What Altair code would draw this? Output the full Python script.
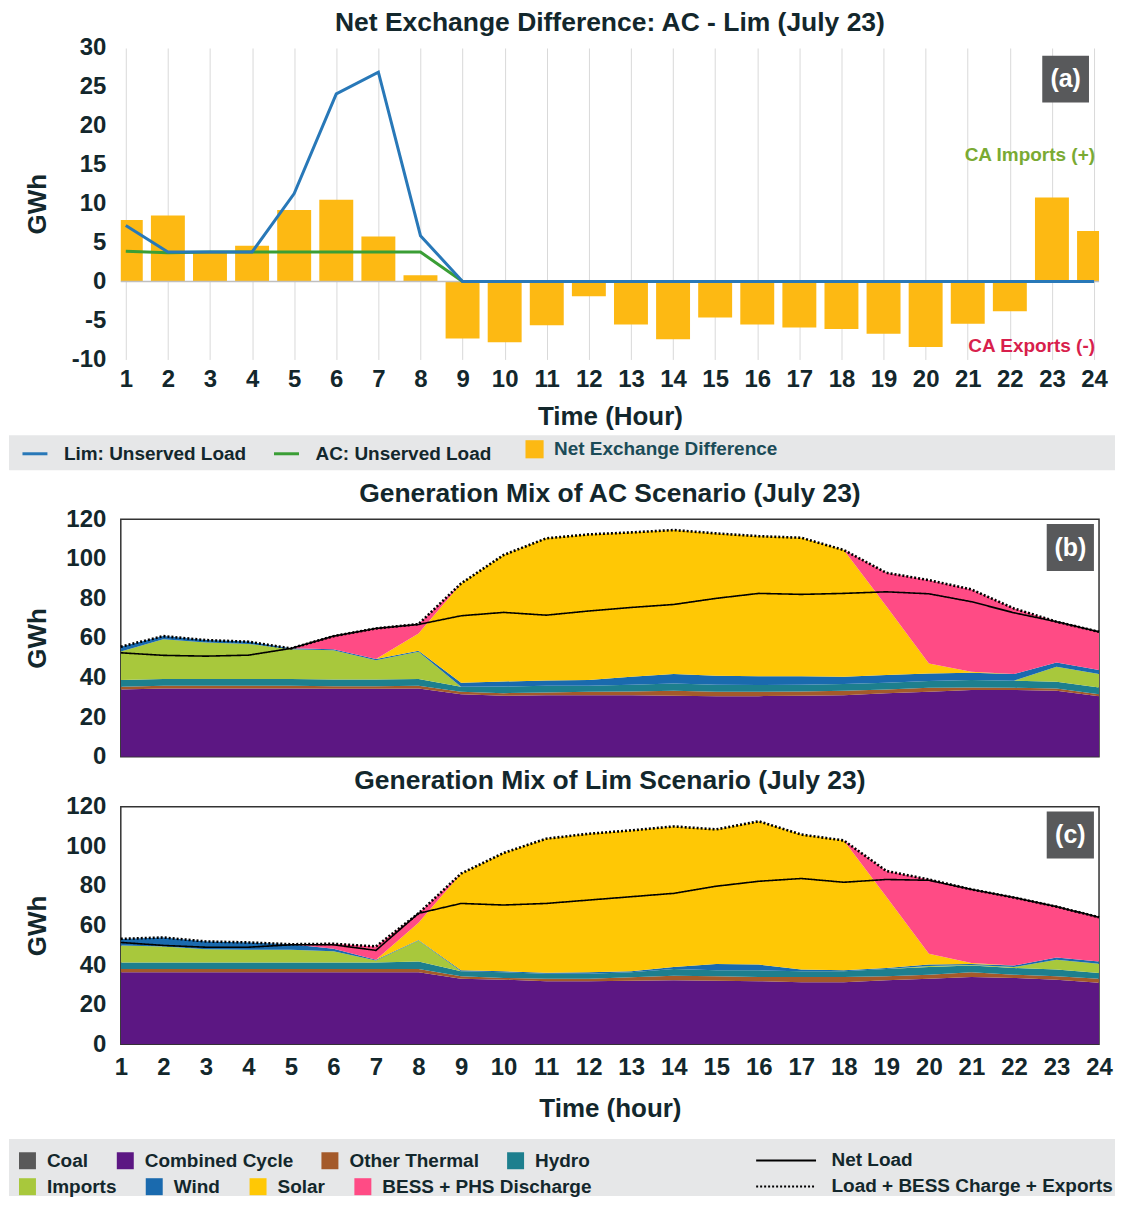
import altair as alt
import pandas as pd

hours = list(range(1, 25))

# ---------------- Panel (a) data ----------------
net_exchange = [7.9, 8.5, 3.7, 4.6, 9.2, 10.5, 5.8, 0.8, -7.3, -7.8, -5.6, -1.9,
                -5.5, -7.4, -4.6, -5.5, -5.9, -6.1, -6.7, -8.4, -5.4, -3.8, 10.8, 6.5]
lim_unserved = [7.2, 3.8, 3.8, 3.8, 11.3, 24.1, 26.9, 5.9] + [0.0] * 16
ac_unserved = [3.9, 3.7, 3.8, 3.8, 3.8, 3.8, 3.8, 3.8] + [0.0] * 16

# ---------------- Generation mix categories ----------------
sources = ["Coal", "Combined Cycle", "Other Thermal", "Hydro",
           "Imports", "Wind", "Solar", "BESS + PHS Discharge"]
source_colors = ["#595959", "#5C1783", "#A45A2A", "#1D7F8E",
                 "#A8C83C", "#1A6AAE", "#FFC805", "#FF4B85"]
line_types = ["Net Load", "Load + BESS Charge + Exports"]

# ---------------- Panel (b): AC scenario ----------------
ac_coal = [0.0] * 24
ac_cc = [34.0, 34.5, 34.5, 34.5, 34.5, 34.3, 34.3, 34.5, 31.5, 30.8, 31.1, 31.1,
         31.0, 30.8, 30.6, 30.6, 30.8, 31.1, 32.0, 32.8, 33.7, 33.7, 33.3, 30.6]
ac_other = [1.3, 1.3, 1.3, 1.3, 1.3, 1.3, 1.3, 1.3, 1.3, 1.3, 1.3, 1.7,
            2.0, 2.5, 2.2, 2.2, 2.2, 2.2, 2.0, 2.0, 1.3, 1.1, 1.2, 1.0]
ac_hydro = [3.4, 3.4, 3.4, 3.4, 3.4, 3.4, 3.4, 3.4, 2.6, 3.4, 3.4, 3.1,
            3.4, 3.7, 3.5, 3.4, 3.4, 3.4, 3.4, 3.4, 3.7, 3.6, 3.4, 3.4]
ac_imports = [14.4, 20.2, 18.5, 17.8, 15.1, 14.8, 9.7, 13.8, 0, 0, 0, 0,
              0, 0, 0, 0, 0, 0, 0, 0, 0, 0, 7.6, 6.8]
ac_wind = [2.5, 1.6, 1.3, 1.2, 0.5, 0.5, 0.6, 0.5, 2.0, 2.5, 2.7, 2.8,
           4.0, 4.8, 4.6, 4.5, 4.3, 3.7, 3.9, 3.9, 3.7, 3.4, 2.1, 2.0]
ac_solar = [0, 0, 0, 0, 0, 0, 0, 8.8, 50.1, 63.9, 71.8, 73.6,
            72.9, 72.7, 71.9, 70.7, 69.9, 64.0, 34.7, 5.0, 0.5, 0, 0, 0]
ac_bess = [0, 0, 0, 0, 0, 6.6, 15.5, 4.7, 0, 0, 0, 0,
           0, 0, 0, 0, 0, 0, 16.9, 42.1, 41.6, 33.1, 20.6, 19.3]
ac_netload = [52.5, 51.2, 50.8, 51.3, 54.7, 60.9, 64.8, 66.8, 71.2, 72.9, 71.5, 73.6,
              75.4, 76.9, 80.0, 82.5, 82.0, 82.5, 83.3, 82.3, 78.3, 72.7, 68.2, 63.1]
ac_total = [55.6, 60.9, 58.9, 58.1, 54.7, 60.9, 64.8, 67.0, 87.5, 101.9, 110.3, 112.3,
            113.3, 114.5, 112.8, 111.4, 110.6, 104.4, 92.9, 89.2, 84.5, 74.9, 68.2, 63.1]

# ---------------- Panel (c): Lim scenario ----------------
lim_coal = [0.0] * 24
lim_cc = [36.3, 36.3, 36.3, 36.3, 36.3, 36.3, 36.3, 36.3, 33.0, 32.6, 31.8, 31.8,
          32.1, 32.3, 32.1, 31.8, 31.3, 31.3, 32.3, 33.0, 34.0, 33.5, 32.6, 31.0]
lim_other = [1.7, 1.7, 1.7, 1.7, 1.7, 1.7, 1.7, 1.7, 1.3, 0.9, 1.2, 1.3,
             1.7, 2.3, 2.2, 2.2, 2.7, 2.7, 2.0, 2.1, 2.3, 1.6, 1.7, 2.0]
lim_hydro = [3.3, 3.3, 3.3, 3.3, 3.3, 3.3, 3.3, 3.8, 2.5, 2.8, 2.6, 2.5,
             2.5, 3.4, 3.0, 3.3, 2.8, 2.8, 3.7, 3.9, 3.4, 3.4, 3.4, 3.0]
lim_imports = [8.6, 8.1, 6.7, 6.4, 6.4, 5.6, 1.0, 10.6, 0, 0, 0, 0,
               0, 0, 0, 0, 0, 0, 0, 0.5, 0.3, 0.5, 5.0, 4.7]
lim_wind = [3.3, 4.5, 3.9, 3.7, 2.8, 1.3, 0.4, 0.2, 0.5, 0.5, 0.5, 0.7,
            0.5, 1.0, 3.2, 2.9, 0.9, 0.5, 0.5, 0.7, 0.5, 0.7, 1.1, 1.1]
lim_solar = [0, 0, 0, 0, 0, 0, 0, 8.7, 48.9, 59.8, 67.7, 70.0,
             71.2, 71.0, 68.0, 72.4, 68.2, 65.6, 36.0, 5.5, 0.5, 0, 0, 0]
lim_bess = [0, 0, 0, 0, 0, 2.5, 6.7, 4.8, 0, 0, 0, 0,
            0, 0, 0, 0, 0, 0, 13.0, 37.5, 37.2, 34.4, 25.7, 22.3]
lim_netload = [51.4, 49.9, 49.0, 49.0, 50.2, 50.2, 47.4, 66.1, 71.1, 70.3, 71.1, 72.8,
               74.5, 76.2, 79.8, 82.3, 83.7, 81.8, 83.2, 82.8, 78.2, 74.1, 69.5, 64.1]
lim_total = [53.2, 53.9, 51.9, 51.4, 50.5, 50.7, 49.4, 66.1, 86.2, 96.6, 103.8, 106.3,
             108.0, 110.0, 108.5, 112.6, 105.9, 102.9, 87.5, 83.2, 78.2, 74.1, 69.5, 64.1]

# ---------------- styling ----------------
FONT = "Liberation Sans"
TXT = "#13272c"
W = 980
HA = 312
HB = 238
BAND = "#E6E7E8"
BOXC = "#58595B"
LEFT = -112
RIGHT = 996

x_scale = alt.Scale(domain=[1, 24], nice=False, zero=False)
ya_scale = alt.Scale(domain=[-10, 30], nice=False)
yb_scale = alt.Scale(domain=[0, 120], nice=False)


def y_axis(vals):
    return alt.Axis(values=vals, title="GWh", grid=False, domain=False, ticks=False,
                    labelPadding=15, titlePadding=12, minExtent=58, maxExtent=58,
                    labelOverlap=False, labelExpr="'' + datum.value")


AX_A_X = alt.Axis(values=hours, title="Time (Hour)", grid=True, gridColor="#D9D9D9",
                  gridWidth=1, domain=False, ticks=False, labelPadding=8,
                  titlePadding=12, format="d", labelFlush=False, labelOverlap=False)
AX_A_Y = y_axis(list(range(-10, 31, 5)))
AX_B_Y = y_axis(list(range(0, 121, 20)))
AX_C_X = alt.Axis(values=hours, title="Time (hour)", grid=False, domain=False,
                  ticks=False, labelPadding=11, titlePadding=16, format="d",
                  labelFlush=False, labelOverlap=False)


def panel_title(text):
    return alt.TitleParams(text=text, font=FONT, fontSize=26.5, fontWeight="bold",
                           color=TXT, anchor="middle", frame="group", offset=0)


def leg_common(**kw):
    base = dict(orient="none", title=None, labelFont=FONT, labelFontSize=19,
                labelFontWeight="bold", labelColor=TXT, padding=0, labelLimit=400)
    base.update(kw)
    return alt.Legend(**base)


one = pd.DataFrame({"k": [0]})


# encoders that carry identical axis definitions in every layer
def XA(f="hour"):
    return alt.X(f"{f}:Q", scale=x_scale, axis=AX_A_X)


def YA(f="value"):
    return alt.Y(f"{f}:Q", scale=ya_scale, axis=AX_A_Y)


def label_box(xf, yf, y_lo, y_hi, label):
    d = pd.DataFrame({"hour": [22.77], "hour2": [23.88], "value": [y_lo], "value2": [y_hi],
                      "hm": [23.325], "vm": [(y_lo + y_hi) / 2], "t": [label]})
    r = alt.Chart(d).mark_rect(color=BOXC).encode(
        x=xf("hour"), x2="hour2:Q", y=yf("value"), y2="value2:Q")
    t = alt.Chart(d).mark_text(font=FONT, fontSize=25, fontWeight="bold", color="white",
                               baseline="middle").encode(x=xf("hm"), y=yf("vm"), text="t:N")
    return r + t


# ================= Panel (a) =================
df_bar = pd.DataFrame({"hour": hours, "value": net_exchange,
                       "kind": ["Net Exchange Difference"] * 24})
df_lines_a = pd.DataFrame({
    "hour": hours * 2,
    "value": lim_unserved + ac_unserved,
    "series": ["Lim: Unserved Load"] * 24 + ["AC: Unserved Load"] * 24,
})

legA1 = leg_common(legendX=-100, legendY=392.5, direction="horizontal", columns=2,
                   symbolType="stroke", symbolSize=625, symbolStrokeWidth=3,
                   labelOffset=15, columnPadding=21)
legA2 = leg_common(legendX=405, legendY=392.5, direction="horizontal", columns=1,
                   symbolType="square", symbolSize=330, symbolStrokeWidth=0,
                   labelOffset=10, labelColor="#1b4b57")

line_color = alt.Color("series:N",
                       scale=alt.Scale(domain=["Lim: Unserved Load", "AC: Unserved Load"],
                                       range=["#2878B8", "#3A9E35"]),
                       legend=legA1)

band_a = alt.Chart(one).mark_rect(color=BAND).encode(
    x=alt.value(LEFT), x2=alt.value(RIGHT), y=alt.value(388), y2=alt.value(423))
spacer_a = alt.Chart(one).mark_rule(color="white", strokeWidth=0.5).encode(
    x=alt.value(LEFT + 0.5), y=alt.value(423), y2=alt.value(434))

bars = alt.Chart(df_bar).mark_bar(width=34, clip=True, opacity=1).encode(
    x=XA(), y=YA(),
    fill=alt.Fill("kind:N", scale=alt.Scale(domain=["Net Exchange Difference"],
                                            range=["#FDB913"]), legend=legA2))

zero_rule = alt.Chart(pd.DataFrame({"value": [0]})).mark_rule(
    color="#BFBFBF", strokeWidth=1.5).encode(y=YA())

ac_line = alt.Chart(df_lines_a).transform_filter(
    "datum.series == 'AC: Unserved Load'").mark_line(strokeWidth=3).encode(
    x=XA(), y=YA(), color=line_color)
lim_line = alt.Chart(df_lines_a).transform_filter(
    "datum.series == 'Lim: Unserved Load'").mark_line(strokeWidth=3).encode(
    x=XA(), y=YA(), color=line_color)

imp_txt = alt.Chart(pd.DataFrame({"hour": [24], "value": [16.3], "t": ["CA Imports (+)"]})).mark_text(
    align="right", dx=1, font=FONT, fontSize=19, fontWeight="bold", color="#7AAA33").encode(
    x=XA(), y=YA(), text="t:N")
exp_txt = alt.Chart(pd.DataFrame({"hour": [24], "value": [-8.3], "t": ["CA Exports (-)"]})).mark_text(
    align="right", dx=1, font=FONT, fontSize=19, fontWeight="bold", color="#D81F4D").encode(
    x=XA(), y=YA(), text="t:N")

panel_a = alt.layer(
    bars, band_a, spacer_a, zero_rule, ac_line, lim_line, imp_txt, exp_txt,
    label_box(XA, YA, 23.0, 29.0, "(a)"),
).properties(width=W, height=HA,
             title=panel_title("Net Exchange Difference: AC - Lim (July 23)"))


# ================= Panels (b) and (c) =================
def long_frame(lists):
    rows = []
    for k, (name, vals) in enumerate(zip(sources, lists)):
        for h, v in zip(hours, vals):
            rows.append({"hour": h, "value": v, "source": name, "ord": k})
    return pd.DataFrame(rows)


def line_frame(net, total):
    return pd.DataFrame({"hour": hours * 2, "value": net + total,
                         "ltype": [line_types[0]] * 24 + [line_types[1]] * 24})


def gen_panel(lists, net, total, title, label, show_x, legends):
    df = long_frame(lists)
    dl = line_frame(net, total)
    xax = AX_C_X if show_x else None

    def XB(f="hour"):
        return alt.X(f"{f}:Q", scale=x_scale, axis=xax)

    def YB(f="value"):
        return alt.Y(f"{f}:Q", scale=yb_scale, axis=AX_B_Y, stack=None)

    if legends:
        legR1 = leg_common(legendX=-103, legendY=345, direction="horizontal", columns=4,
                           symbolType="square", symbolSize=289,
                           values=sources[:4],
                           symbolStrokeWidth=0, labelOffset=10, columnPadding=27)
        legR2 = leg_common(legendX=-103, legendY=371, direction="horizontal", columns=4,
                           symbolType="square", symbolSize=289,
                           symbolStrokeWidth=0, labelOffset=10, columnPadding=28)
        legL = leg_common(legendX=657, legendY=345, direction="vertical",
                          symbolType="M-6,0H6", symbolSize=100, symbolStrokeWidth=2,
                          symbolStrokeColor="black", labelOffset=36, rowPadding=6)
    else:
        legR1 = None
        legR2 = None
        legL = None
    color = alt.Color("source:N", scale=alt.Scale(domain=sources, range=source_colors),
                      legend=legR1)
    dash = alt.StrokeDash("ltype:N", scale=alt.Scale(domain=line_types, range=[[1, 0], [2, 2]]),
                          legend=legL)
    area = alt.Chart(df).mark_area(opacity=1, clip=True, interpolate="linear").encode(
        x=XB(),
        y=alt.Y("value:Q", stack="zero", scale=yb_scale, axis=AX_B_Y),
        color=color, order=alt.Order("ord:Q", sort="ascending"))
    net_l = alt.Chart(dl).transform_filter(f"datum.ltype == '{line_types[0]}'").mark_line(
        color="black", strokeWidth=1.6).encode(x=XB(), y=YB(), strokeDash=dash)
    tot_l = alt.Chart(dl).transform_filter(f"datum.ltype == '{line_types[1]}'").mark_line(
        color="black", strokeWidth=2.6, strokeCap="butt").encode(
        x=XB(), y=YB(), strokeDash=dash)
    layers = [area]
    if legends:
        layers.append(alt.Chart(one).mark_rect(color=BAND).encode(
            x=alt.value(LEFT), x2=alt.value(RIGHT), y=alt.value(333), y2=alt.value(390)))
    else:
        layers.append(alt.Chart(one).mark_rule(color="white", strokeWidth=0.5).encode(
            x=alt.value(LEFT + 0.5), y=alt.value(0), y2=alt.value(1)))
    layers += [net_l, tot_l, label_box(XB, YB, 93.8, 117.5, label)]
    if legends:
        # second legend row (Imports, Wind, Solar, BESS) from a data-less fill layer
        hidden = alt.Chart(df).transform_filter("false").mark_area(opacity=1).encode(
            x=XB(), y=YB(),
            fill=alt.Fill("source:N",
                          scale=alt.Scale(domain=sources[4:], range=source_colors[4:]),
                          legend=legR2))
        layers.append(hidden)
    return alt.layer(*layers).properties(
        width=W, height=HB, title=panel_title(title),
        view=alt.ViewBackground(stroke="#333333", strokeWidth=1.5))


panel_b = gen_panel([ac_coal, ac_cc, ac_other, ac_hydro, ac_imports, ac_wind, ac_solar, ac_bess],
                    ac_netload, ac_total, "Generation Mix of AC Scenario (July 23)", "(b)",
                    False, False)
panel_c = gen_panel([lim_coal, lim_cc, lim_other, lim_hydro, lim_imports, lim_wind, lim_solar,
                     lim_bess],
                    lim_netload, lim_total, "Generation Mix of Lim Scenario (July 23)", "(c)",
                    True, True)

chart = alt.vconcat(panel_a, panel_b, panel_c, spacing=-3).resolve_scale(
    color="independent", fill="independent", strokeDash="independent"
).resolve_legend(
    color="independent", fill="independent", strokeDash="independent"
).properties(
    padding={"left": 0, "top": 0, "right": 0, "bottom": 0}
).configure(font=FONT).configure_view(strokeWidth=0).configure_axis(
    labelFont=FONT, labelFontSize=24, labelFontWeight="bold", labelColor=TXT,
    titleFont=FONT, titleFontSize=26, titleFontWeight="bold", titleColor=TXT,
    labelOverlap=False)

chart.save("out.html", embed_options={"renderer": "svg", "actions": False})
